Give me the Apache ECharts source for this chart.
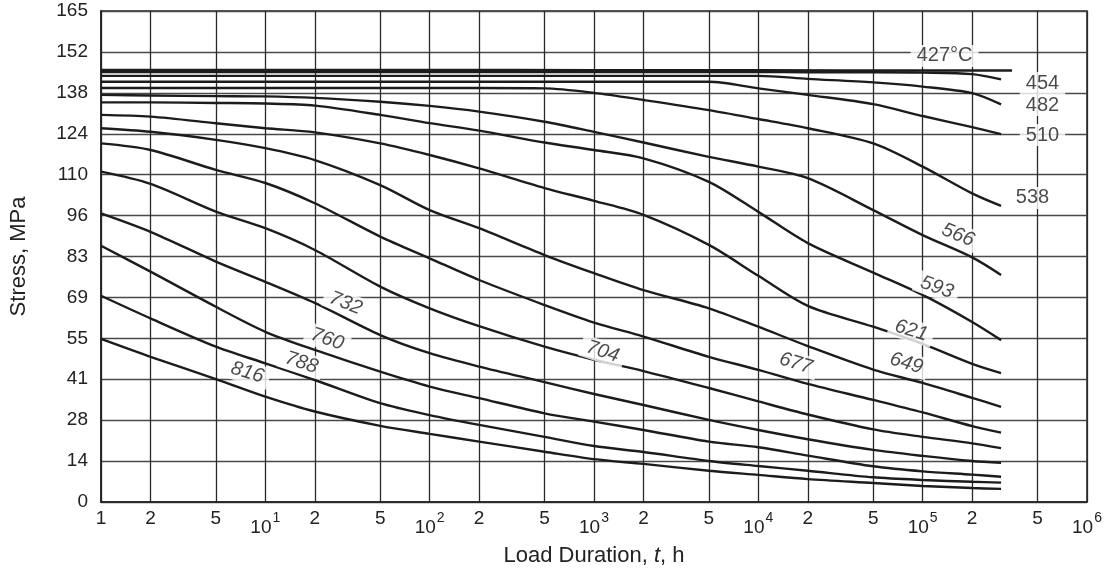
<!DOCTYPE html>
<html>
<head>
<meta charset="utf-8">
<script src="https://cdn.jsdelivr.net/npm/echarts@6/dist/echarts.min.js"></script>
<style>
html, body { margin: 0; padding: 0; background: #fff; }
#chart { width: 1108px; height: 573px; }
</style>
</head>
<body>
<div id="chart"></div>
<script>
// x grid / tick positions (hours) and their labels
var xTicks = [1, 2, 5, 10, 20, 50, 100, 200, 500, 1e3, 2e3, 5e3, 1e4, 2e4, 5e4, 1e5, 2e5, 5e5, 1e6];
var xTickLabels = ['1', '2', '5', '10^1', '2', '5', '10^2', '2', '5', '10^3', '2', '5', '10^4', '2', '5', '10^5', '2', '5', '10^6'];
var yTickLabels = ['0', '14', '28', '41', '55', '69', '83', '96', '110', '124', '138', '152', '165'];

// load duration (h) where the curves were read
var hours = [1, 2, 5, 10, 20, 50, 100, 200, 500, 1e3, 2e3, 5e3, 1e4, 2e4, 5e4, 1e5, 2e5, 3e5];
var hours427 = [1, 10, 100, 1e3, 1e4, 1e5, 3.5e5];

// stress (MPa) per temperature
var s427 = [145.2, 145.2, 145.2, 145.1, 145.1, 145.0, 145.0];
var s454 = [144.5, 144.5, 144.5, 144.5, 144.5, 144.5, 144.5, 144.5, 144.5, 144.5, 144.5, 144.5, 144.5, 144.4, 144.4, 144.3, 143.8, 142.0];
var s482 = [143.2, 143.2, 143.2, 143.2, 143.2, 143.2, 143.2, 143.2, 143.2, 143.2, 143.2, 143.2, 143.2, 142.2, 141.0, 139.6, 137.4, 133.6];
var s510 = [141.2, 141.2, 141.2, 141.2, 141.2, 141.2, 141.2, 141.2, 141.2, 141.2, 141.2, 141.2, 139.0, 136.8, 133.7, 129.7, 126.0, 123.6];
var s538 = [139.1, 139.1, 139.1, 139.1, 139.1, 139.1, 139.1, 139.1, 139.0, 137.5, 135.1, 131.7, 128.7, 125.6, 120.5, 112.7, 103.7, 99.5];
var s566 = [136.8, 136.6, 136.4, 136.3, 135.8, 134.5, 133.1, 131.2, 127.8, 124.4, 120.8, 116.0, 112.7, 108.8, 98.1, 89.7, 82.2, 76.3];
var s593 = [134.3, 134.3, 134.1, 133.9, 133.2, 130.1, 127.3, 124.8, 120.8, 118.3, 115.5, 107.6, 97.5, 87.0, 77.1, 69.6, 60.5, 54.4];
var s621 = [130.1, 129.5, 127.3, 125.6, 124.2, 120.5, 116.6, 112.1, 105.5, 101.2, 96.5, 86.4, 76.0, 65.9, 58.9, 53.1, 46.4, 43.3];
var s649 = [125.6, 124.4, 121.7, 118.9, 114.9, 106.5, 98.1, 92.0, 83.0, 76.9, 71.2, 65.1, 58.9, 52.4, 44.5, 40.0, 35.0, 32.0];
var s677 = [120.5, 118.3, 111.6, 107.2, 100.4, 89.2, 81.9, 74.6, 66.2, 60.3, 55.6, 48.8, 44.4, 39.7, 34.3, 30.1, 25.5, 23.3];
var s704 = [111.0, 106.9, 97.6, 92.0, 84.7, 72.4, 65.1, 59.1, 52.2, 47.8, 44.0, 38.3, 33.8, 29.4, 24.4, 21.9, 19.7, 18.1];
var s732 = [97.0, 90.8, 80.8, 74.0, 66.9, 56.1, 50.0, 45.5, 40.3, 36.3, 32.6, 27.6, 24.2, 21.1, 17.5, 15.5, 13.8, 13.2];
var s760 = [86.1, 77.4, 65.6, 57.2, 51.1, 43.8, 38.8, 34.9, 29.8, 27.0, 24.2, 20.3, 18.4, 15.6, 12.0, 10.3, 9.2, 8.5];
var s788 = [69.3, 61.7, 52.2, 46.6, 41.0, 33.2, 29.2, 25.9, 21.9, 18.8, 16.8, 13.8, 12.1, 10.5, 8.3, 7.4, 6.8, 6.5];
var s816 = [54.8, 48.8, 41.3, 35.4, 30.4, 25.6, 22.9, 20.3, 16.9, 14.4, 12.8, 10.5, 9.1, 7.7, 6.4, 5.4, 4.7, 4.4];

// curve labels: text, hours, stress, rotation
var curveLabels = [
    ['427°C', 1.36e5, 149.9, 0],
    ['454', 5.36e5, 140.8, 0],
    ['482', 5.36e5, 133.4, 0],
    ['510', 5.36e5, 123.3, 0],
    ['538', 4.66e5, 102.2, 0],
    ['566', 1.64e5, 89.7, -22],
    ['593', 1.22e5, 72.1, -20],
    ['621', 8.53e4, 57.6, -17],
    ['649', 7.96e4, 46.6, -17],
    ['677', 1.69e4, 46.6, -17],
    ['704', 1130, 50.5, -18],
    ['732', 30.8, 66.8, -22],
    ['760', 23.8, 54.7, -19],
    ['788', 16.6, 46.8, -18],
    ['816', 7.78, 43.5, -17]
];

var FONT = '"Liberation Sans", Arial, Helvetica, sans-serif';
var lg = function (t) { return Math.log10(t); };

function curve(name, ts, vals) {
    return {
        name: name,
        type: 'line',
        data: ts.map(function (t, i) { return [lg(t), vals[i]]; }),
        showSymbol: false,
        symbol: 'none',
        smooth: 0.3,
        silent: true,
        lineStyle: { color: '#1c1c1c', width: 2.4 }
    };
}

var series = [
    curve('427', hours427, s427),
    curve('454', hours, s454),
    curve('482', hours, s482),
    curve('510', hours, s510),
    curve('538', hours, s538),
    curve('566', hours, s566),
    curve('593', hours, s593),
    curve('621', hours, s621),
    curve('649', hours, s649),
    curve('677', hours, s677),
    curve('704', hours, s704),
    curve('732', hours, s732),
    curve('760', hours, s760),
    curve('788', hours, s788),
    curve('816', hours, s816)
];

series.push({
    type: 'scatter',
    symbolSize: 0,
    silent: true,
    z: 10,
    data: curveLabels.map(function (c) {
        return {
            value: [lg(c[1]), c[2]],
            label: { formatter: c[0], rotate: c[3], fontStyle: c[3] ? 'italic' : 'normal' }
        };
    }),
    label: {
        show: true,
        position: 'inside',
        color: '#1c1c1c',
        fontSize: 20,
        fontFamily: FONT,
        backgroundColor: '#fff',
        padding: [1, 6]
    }
});

var xLogTicks = xTicks.map(lg);

var chart = echarts.init(document.getElementById('chart'));
chart.setOption({
    animation: false,
    backgroundColor: '#fff',
    grid: {
        left: 100, right: 21, top: 11, bottom: 71,
        show: true, borderColor: '#222', borderWidth: 1.5
    },
    xAxis: {
        type: 'value',
        min: 0,
        max: 6,
        name: 'Load Duration, {i|t}, h',
        nameLocation: 'middle',
        nameGap: 43,
        nameTextStyle: {
            fontSize: 22, color: '#222', fontFamily: FONT,
            rich: { i: { fontSize: 22, fontStyle: 'italic', color: '#222', fontFamily: FONT } }
        },
        axisLine: { show: true, lineStyle: { color: '#222', width: 1.5 } },
        axisTick: { show: false, customValues: xLogTicks },
        splitLine: { show: true, lineStyle: { color: '#2a2a2a', width: 1.3 } },
        axisLabel: {
            customValues: xLogTicks,
            margin: 6,
            color: '#222',
            fontFamily: FONT,
            fontSize: 19,
            formatter: function (v) {
                for (var i = 0; i < xLogTicks.length; i++) {
                    if (Math.abs(xLogTicks[i] - v) < 1e-6) {
                        var txt = xTickLabels[i];
                        if (txt.indexOf('^') > 0) {
                            var p = txt.split('^');
                            return '{p|' + p[0] + '}{s|' + p[1] + '}';
                        }
                        return '{d|' + txt + '}';
                    }
                }
                return '';
            },
            rich: {
                d: { fontSize: 19, lineHeight: 22, color: '#222', fontFamily: FONT },
                p: { fontSize: 19, lineHeight: 22, color: '#222', fontFamily: FONT, padding: [17, 0, 0, 0] },
                s: { fontSize: 14, lineHeight: 22, color: '#222', fontFamily: FONT, padding: [0, 0, 2, 1] }
            }
        }
    },
    yAxis: {
        type: 'value',
        min: 0,
        max: 165,
        interval: 13.75,
        name: 'Stress, MPa',
        nameLocation: 'middle',
        nameGap: 71,
        nameTextStyle: { fontSize: 22, color: '#222', fontFamily: FONT },
        axisLine: { show: true, lineStyle: { color: '#222', width: 1.5 } },
        axisTick: { show: false },
        splitLine: { show: true, lineStyle: { color: '#4a4a4a', width: 1.3 } },
        axisLabel: {
            margin: 13,
            color: '#222',
            fontFamily: FONT,
            fontSize: 19,
            formatter: function (v) { return yTickLabels[Math.round(v / 13.75)]; }
        }
    },
    series: series
});
</script>
</body>
</html>
